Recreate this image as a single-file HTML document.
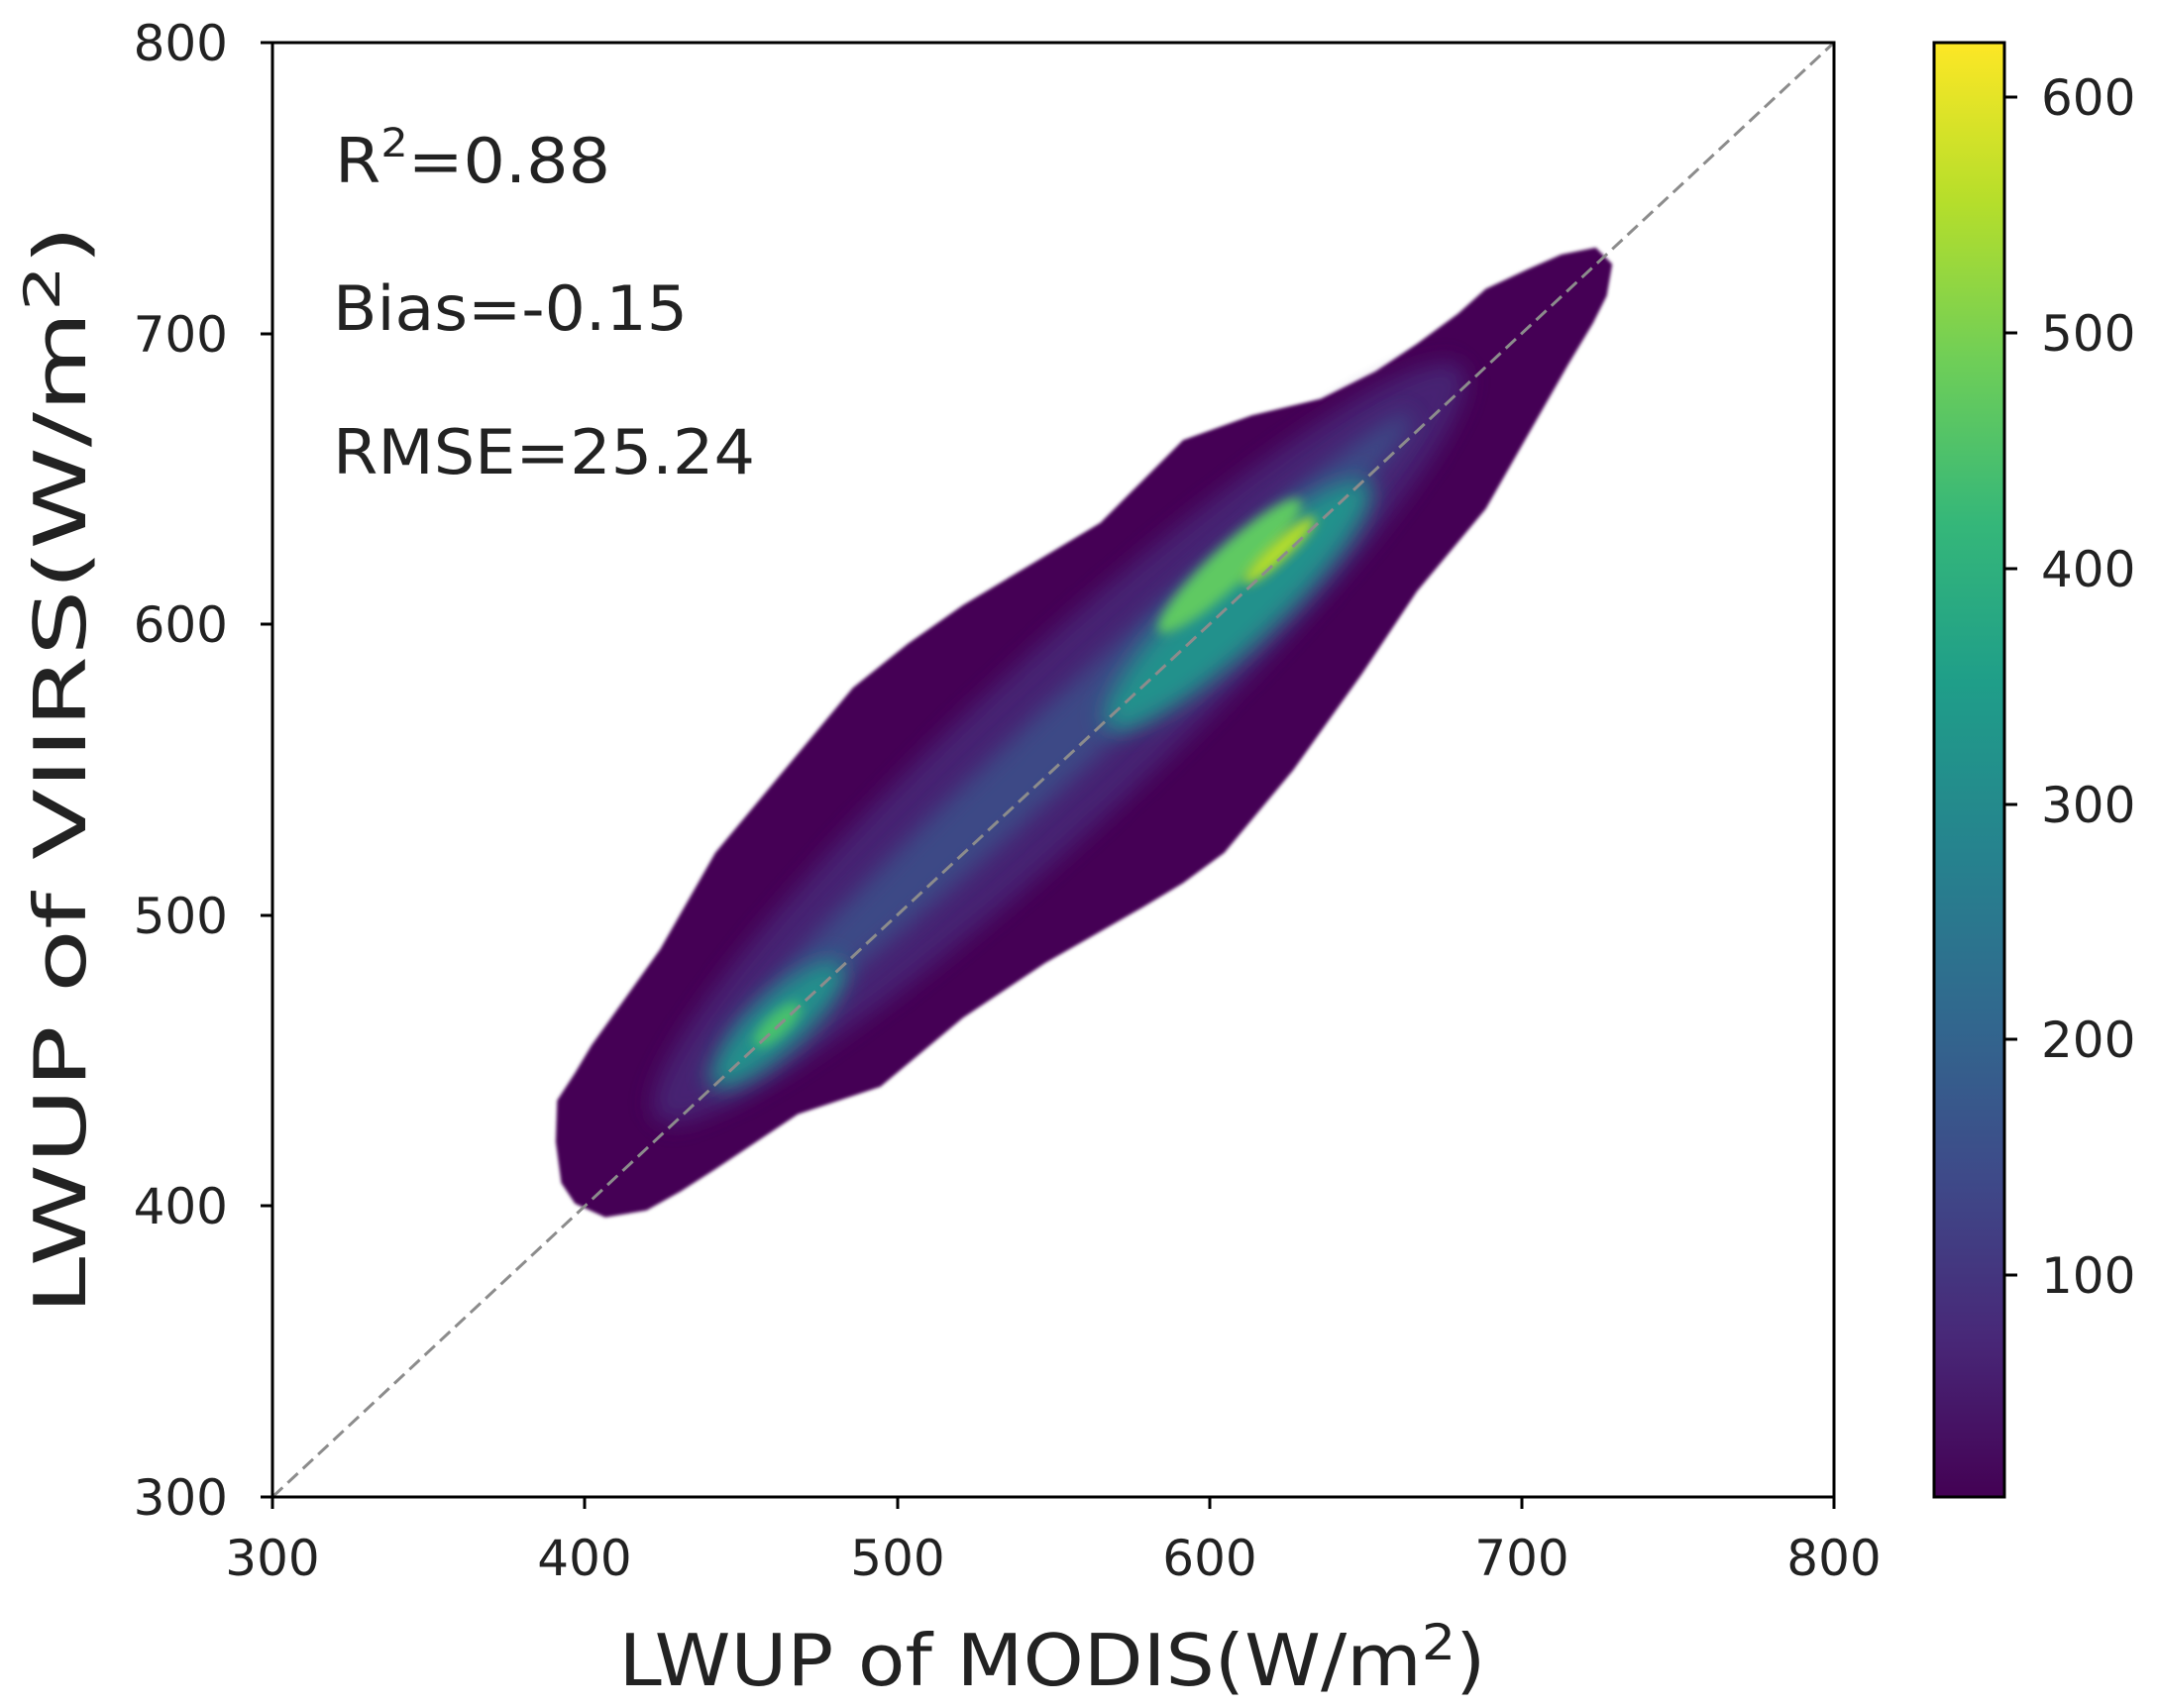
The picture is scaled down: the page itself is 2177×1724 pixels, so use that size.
<!DOCTYPE html>
<html><head><meta charset="utf-8"><style>body{margin:0;background:#fff}svg{display:block}</style></head>
<body>
<svg width="2177" height="1724" viewBox="0 0 2177 1724" xmlns="http://www.w3.org/2000/svg" font-family="DejaVu Sans, Liberation Sans, sans-serif">
<defs>
<linearGradient id="vir" x1="0" y1="1" x2="0" y2="0">
<stop offset="0" stop-color="#440154"/><stop offset="0.11" stop-color="#482878"/><stop offset="0.22" stop-color="#3e4a89"/><stop offset="0.33" stop-color="#31688e"/><stop offset="0.44" stop-color="#26828e"/><stop offset="0.56" stop-color="#1f9e89"/><stop offset="0.67" stop-color="#35b779"/><stop offset="0.78" stop-color="#6ece58"/><stop offset="0.89" stop-color="#b5de2b"/><stop offset="1" stop-color="#fde725"/>
</linearGradient>
<filter id="b0" x="-20%" y="-20%" width="140%" height="140%"><feGaussianBlur stdDeviation="1.2"/></filter>
<filter id="b1" x="-50%" y="-50%" width="200%" height="200%"><feGaussianBlur stdDeviation="8"/></filter>
<filter id="b2" x="-50%" y="-50%" width="200%" height="200%"><feGaussianBlur stdDeviation="4"/></filter>
</defs>
<g transform="scale(1.3884)">
 <path filter="url(#b0)" fill="#440154" d="M405,800 L418,780 L430,760 L455,725 L480,690 L500,655 L520,620 L545,590 L570,560 L595,530 L620,500 L660,468 L700,440 L750,410 L800,380 L830,350 L860,320 L910,302 L960,290 L1000,270 L1030,250 L1060,228 L1080,210 L1110,196 L1135,185 L1160,180 L1172,192 L1168,215 L1158,235 L1140,265 L1120,300 L1100,335 L1080,370 L1055,400 L1030,430 L1010,460 L990,490 L965,525 L940,560 L915,590 L890,620 L860,642 L830,660 L795,680 L760,700 L730,720 L700,740 L670,765 L640,790 L610,800 L580,810 L550,830 L520,850 L495,866 L470,880 L440,885 L418,875 L408,860 L404,830 Z"/>
 <g transform="rotate(-43 770 540)">
  <ellipse cx="770" cy="540" rx="400" ry="62" fill="#472676" filter="url(#b1)" opacity="0.9"/>
  <ellipse cx="780" cy="540" rx="340" ry="26" fill="#3b528b" filter="url(#b1)" opacity="0.8"/>
 </g>
 <g transform="rotate(-43 900 440)">
  <ellipse cx="900" cy="440" rx="130" ry="30" fill="#21918c" filter="url(#b1)"/>
  <ellipse cx="915" cy="415" rx="70" ry="14" fill="#5ec962" filter="url(#b2)" transform="rotate(0)"/>
 </g>
 <g transform="rotate(-43 930 400)">
  <ellipse cx="930" cy="400" rx="35" ry="7" fill="#b5de2b" filter="url(#b2)"/>
 </g>
 <g transform="rotate(-43 565 745)">
  <ellipse cx="565" cy="745" rx="65" ry="20" fill="#21918c" filter="url(#b1)"/>
  <ellipse cx="565" cy="745" rx="22" ry="8" fill="#4ac16d" filter="url(#b2)"/>
 </g>
</g>
<line x1="275" y1="1511" x2="1851" y2="43" stroke="#8c8c8c" stroke-width="3" stroke-dasharray="14,7"/>
<rect x="275" y="43" width="1576" height="1468" fill="none" stroke="#000" stroke-width="3"/>
<g stroke="#000" stroke-width="3">
<line x1="275" y1="1511" x2="275" y2="1523"/><line x1="590" y1="1511" x2="590" y2="1523"/><line x1="906" y1="1511" x2="906" y2="1523"/><line x1="1221" y1="1511" x2="1221" y2="1523"/><line x1="1536" y1="1511" x2="1536" y2="1523"/><line x1="1851" y1="1511" x2="1851" y2="1523"/>
<line x1="263" y1="43" x2="275" y2="43"/><line x1="263" y1="337" x2="275" y2="337"/><line x1="263" y1="630" x2="275" y2="630"/><line x1="263" y1="924" x2="275" y2="924"/><line x1="263" y1="1217" x2="275" y2="1217"/><line x1="263" y1="1511" x2="275" y2="1511"/>
</g>
<g font-size="50" fill="#222" text-anchor="middle">
<text x="275" y="1590">300</text><text x="590" y="1590">400</text><text x="906" y="1590">500</text><text x="1221" y="1590">600</text><text x="1536" y="1590">700</text><text x="1851" y="1590">800</text>
</g>
<g font-size="50" fill="#222" text-anchor="end">
<text x="230" y="61">800</text><text x="230" y="355">700</text><text x="230" y="648">600</text><text x="230" y="942">500</text><text x="230" y="1235">400</text><text x="230" y="1529">300</text>
</g>
<text x="1062" y="1701" font-size="72" fill="#222" text-anchor="middle" textLength="875" lengthAdjust="spacingAndGlyphs">LWUP of MODIS(W/m<tspan font-size="50" dy="-26">2</tspan><tspan dy="26">)</tspan></text>
<text transform="translate(86,777) rotate(-90)" font-size="72" fill="#222" text-anchor="middle" textLength="1100" lengthAdjust="spacingAndGlyphs">LWUP of VIIRS(W/m<tspan font-size="50" dy="-26">2</tspan><tspan dy="26">)</tspan></text>
<g font-size="62" fill="#222">
<text x="338" y="184" textLength="278" lengthAdjust="spacingAndGlyphs">R<tspan font-size="40" dy="-26">2</tspan><tspan dy="26">=0.88</tspan></text>
<text x="336" y="333" textLength="358" lengthAdjust="spacingAndGlyphs">Bias=-0.15</text>
<text x="336" y="478" textLength="426" lengthAdjust="spacingAndGlyphs">RMSE=25.24</text>
</g>
<rect x="1952" y="43" width="71" height="1468" fill="url(#vir)" stroke="#000" stroke-width="3"/>
<g stroke="#000" stroke-width="3">
<line x1="2023" y1="98" x2="2036" y2="98"/><line x1="2023" y1="336" x2="2036" y2="336"/><line x1="2023" y1="574" x2="2036" y2="574"/><line x1="2023" y1="812" x2="2036" y2="812"/><line x1="2023" y1="1049" x2="2036" y2="1049"/><line x1="2023" y1="1287" x2="2036" y2="1287"/>
</g>
<g font-size="50" fill="#222">
<text x="2060" y="116">600</text><text x="2060" y="354">500</text><text x="2060" y="592">400</text><text x="2060" y="830">300</text><text x="2060" y="1067">200</text><text x="2060" y="1305">100</text>
</g>
</svg>
</body></html>
